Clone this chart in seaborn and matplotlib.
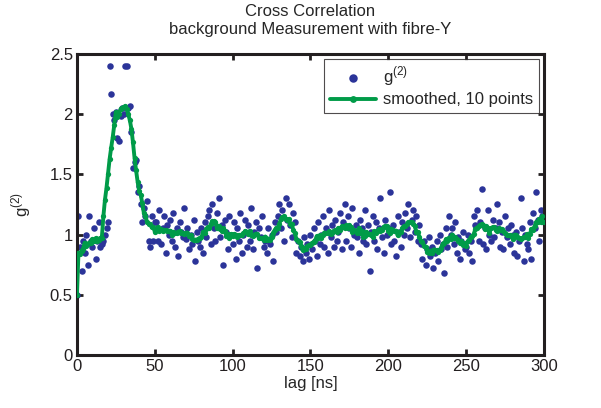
import numpy as np
import pandas as pd
import matplotlib
matplotlib.use('Agg')
import matplotlib.pyplot as plt
import seaborn as sns

# g2 values, one per ns lag (0..300)
g2_00_50 = [0.50, 1.15, 0.90, 0.70, 0.95, 0.85, 1.00, 0.75, 1.15, 0.95,
            0.90, 1.05, 0.80, 0.95, 1.10, 0.90, 0.92, 0.95, 1.00, 1.05,
            1.10, 2.40, 2.17, 2.00, 1.95, 2.02, 1.80, 1.78, 1.98, 2.05,
            2.00, 2.40, 2.40, 2.05, 2.07, 1.85, 1.55, 1.60, 1.62, 1.35,
            1.40, 1.25, 1.10, 1.22, 1.15, 1.28, 0.95, 0.90, 1.15, 0.95,
            1.10]
g2_51_150 = [1.10, 0.95, 1.20, 0.92, 1.05, 1.15, 0.85, 1.08, 1.00, 1.12,
             0.95, 1.18, 0.90, 1.05, 0.82, 1.10, 1.02, 0.98, 1.22, 0.96,
             1.05, 0.88, 1.00, 0.92, 1.12, 0.78, 1.02, 0.95, 0.90, 1.05,
             0.85, 1.10, 0.98, 1.15, 1.20, 0.92, 1.25, 1.05, 0.95, 1.18,
             1.30, 0.98, 1.08, 0.75, 1.12, 1.02, 0.88, 1.15, 1.00, 0.92,
             1.10, 0.80, 1.05, 0.95, 1.18, 0.85, 1.00, 1.12, 0.90, 1.08,
             0.95, 1.22, 0.88, 1.02, 1.10, 0.72, 1.05, 0.98, 1.15, 0.90,
             0.95, 0.85, 1.05, 0.92, 1.00, 0.78, 1.10, 1.02, 1.15, 1.25,
             1.05, 1.20, 0.95, 1.30, 1.12, 1.25, 1.08, 0.98, 1.18, 1.10,
             0.85, 0.95, 0.82, 0.90, 0.78, 0.98, 0.85, 0.92, 0.80, 1.00]
g2_151_250 = [0.88, 1.05, 0.95, 0.82, 1.10, 0.92, 1.00, 1.15, 0.90, 1.05,
              0.85, 1.20, 0.98, 1.08, 0.90, 1.12, 0.95, 1.02, 1.18, 0.88,
              1.10, 1.25, 0.95, 1.15, 1.05, 0.90, 1.22, 1.00, 1.08, 0.98,
              0.85, 1.12, 1.05, 0.95, 1.20, 0.92, 1.08, 0.70, 1.02, 1.15,
              0.95, 1.10, 0.88, 1.05, 1.30, 0.98, 0.85, 1.12, 1.00, 1.05,
              1.35, 0.92, 1.08, 0.95, 0.82, 1.15, 1.02, 0.90, 1.10, 1.00,
              1.18, 1.05, 1.25, 0.98, 1.12, 1.20, 1.02, 1.15, 0.95, 1.08,
              0.92, 0.80, 0.95, 0.75, 0.88, 0.98, 0.82, 0.90, 0.72, 0.85,
              0.95, 0.78, 1.00, 0.88, 0.92, 0.68, 1.05, 0.90, 1.15, 1.00,
              1.05, 0.92, 1.10, 0.85, 0.98, 0.80, 0.95, 1.02, 0.88, 0.90]
g2_251_300 = [1.00, 0.85, 0.95, 0.78, 1.15, 1.08, 1.20, 0.95, 1.10, 1.38,
              0.92, 1.05, 0.88, 1.20, 1.00, 0.95, 1.12, 0.98, 1.05, 1.25,
              1.10, 0.90, 1.02, 0.88, 1.15, 0.98, 1.05, 0.92, 1.08, 1.00,
              0.85, 1.02, 0.82, 0.95, 1.30, 1.05, 0.78, 1.00, 0.92, 0.88,
              1.10, 0.80, 1.18, 1.05, 1.35, 1.12, 0.95, 1.20, 1.15, 1.10]

g2 = np.array(g2_00_50 + g2_51_150 + g2_151_250 + g2_251_300)
lag = np.arange(len(g2))


# moving average like MATLAB smooth(y, 10): span 9, shrinking at the ends
def smooth(y, span=10):
    if span % 2 == 0:
        span -= 1
    h = span // 2
    n = len(y)
    out = np.empty(n)
    for i in range(n):
        k = min(h, i, n - 1 - i)
        out[i] = y[i - k:i + k + 1].mean()
    return out


df = pd.DataFrame({'lag': lag, 'g2': g2, 'smoothed': smooth(g2)})

sns.set_style('ticks')
plt.rcParams['font.family'] = ['Liberation Sans', 'DejaVu Sans']
plt.rcParams['mathtext.fontset'] = 'custom'
plt.rcParams['mathtext.rm'] = 'Liberation Sans'

fig = plt.figure(figsize=(6.01, 4.08), dpi=100)
ax = fig.add_axes([0.128, 0.130, 0.777, 0.738])

blue = '#2b3499'
green = '#009b48'

sns.scatterplot(data=df, x='lag', y='g2', color=blue, s=22, linewidth=0,
                label='g$^{(2)}$', ax=ax, zorder=2)
sns.lineplot(data=df, x='lag', y='smoothed', color=green, linewidth=2.8,
             marker='o', markersize=3.8, markeredgewidth=0,
             label='smoothed, 10 points', ax=ax, zorder=3)

ax.set_xlim(0, 300)
ax.set_ylim(0, 2.5)
ax.set_xticks(range(0, 301, 50))
ax.set_yticks([0, 0.5, 1, 1.5, 2, 2.5])
ax.set_yticklabels(['0', '0.5', '1', '1.5', '2', '2.5'])
ax.set_xlabel('lag [ns]', fontsize=12, labelpad=1)
ax.set_ylabel('g$^{(2)}$', fontsize=12, labelpad=12)
ax.set_title('Cross Correlation\nbackground Measurement with fibre-Y',
             fontsize=12, linespacing=1.3, pad=14)

for s in ax.spines.values():
    s.set_visible(True)
    s.set_linewidth(2.2)
    s.set_color('#231f20')
ax.tick_params(direction='in', length=4, width=2, top=True, right=True,
               labelsize=12, colors='#231f20', pad=3)

leg = ax.legend(loc='upper right', fontsize=12, frameon=True, fancybox=False,
                borderaxespad=0.3, handlelength=2.8, labelspacing=0.25,
                borderpad=0.35, markerscale=1.3, handletextpad=0.4)
leg.get_frame().set_edgecolor('#231f20')
leg.get_frame().set_linewidth(0.8)

fig.savefig('out.png', dpi=100)
